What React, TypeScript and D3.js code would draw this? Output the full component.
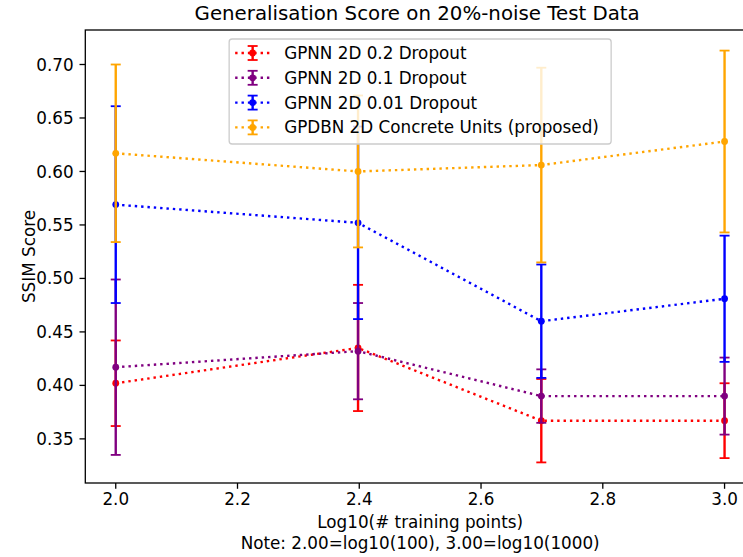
import React from 'react';
import * as d3 from 'd3';

// x positions: log10 of the number of training points
const xValues = [2.0, 2.398, 2.699, 3.0];

const seriesNames = [
  'GPNN 2D 0.2 Dropout',
  'GPNN 2D 0.1 Dropout',
  'GPNN 2D 0.01 Dropout',
  'GPDBN 2D Concrete Units (proposed)',
];
const seriesColors = ['#ff0000', '#800080', '#0000ff', '#ffa500'];

const drop02Mean = [0.402, 0.435, 0.367, 0.367];
const drop02Err = [0.040, 0.059, 0.039, 0.035];
const drop01Mean = [0.417, 0.432, 0.390, 0.390];
const drop01Err = [0.082, 0.045, 0.025, 0.036];
const drop001Mean = [0.569, 0.552, 0.460, 0.481];
const drop001Err = [0.092, 0.090, 0.053, 0.059];
const concreteMean = [0.617, 0.600, 0.606, 0.628];
const concreteErr = [0.083, 0.071, 0.091, 0.085];

const xTicks = [2.0, 2.2, 2.4, 2.6, 2.8, 3.0];
const yTicks = [0.35, 0.4, 0.45, 0.5, 0.55, 0.6, 0.65, 0.7];

const title = 'Generalisation Score on 20%-noise Test Data';
const xLabel = 'Log10(# training points)';
const xNote = 'Note: 2.00=log10(100), 3.00=log10(1000)';
const yLabel = 'SSIM Score';

const W = 743;
const H = 557;
const FONT = 'DejaVu Sans, sans-serif';
const FS = 16.8;

const App = () => {
  const means = [drop02Mean, drop01Mean, drop001Mean, concreteMean];
  const errs = [drop02Err, drop01Err, drop001Err, concreteErr];

  // axes box (right edge falls outside the picture, like the original)
  const left = 85.3;
  const top = 30;
  const bottom = 483;

  // matplotlib style 5% margins
  const x0 = d3.min(xValues);
  const x1 = d3.max(xValues);
  const xPad = (x1 - x0) * 0.05;
  const x = d3.scaleLinear().domain([x0 - xPad, x1 + xPad]).range([left, left + 669.7]);

  const lows = means.flatMap((m, i) => m.map((v, j) => v - errs[i][j]));
  const highs = means.flatMap((m, i) => m.map((v, j) => v + errs[i][j]));
  const yLo = d3.min(lows);
  const yHi = d3.max(highs);
  const yPad = (yHi - yLo) * 0.05;
  const y = d3.scaleLinear().domain([yLo - yPad, yHi + yPad]).range([bottom, top]);

  const right = x.range()[1];
  const cx = (left + right) / 2;

  const line = d3
    .line<number>()
    .x((_, i) => x(xValues[i]))
    .y((d) => y(d));

  const cap = 5;
  const lw = 2.4;
  const dash = `${lw} ${lw * 1.65}`;

  // legend
  const legW = 382;
  const legX = cx - legW / 2;
  const legY = 39;
  const rowH = 24.8;

  return (
    <svg
      width={W}
      height={H}
      style={{ position: 'absolute', left: 0, top: 0, background: '#fff' }}
      fontFamily={FONT}
    >
      <rect x={0} y={0} width={W} height={H} fill="#fff" />

      {/* series */}
      {means.map((m, si) => (
        <g key={si}>
          {m.map((v, j) => {
            const px = x(xValues[j]);
            const yt = y(v + errs[si][j]);
            const yb = y(v - errs[si][j]);
            return (
              <g key={j} stroke={seriesColors[si]} strokeWidth={lw}>
                <line x1={px} x2={px} y1={yt} y2={yb} />
                <line x1={px - cap} x2={px + cap} y1={yt} y2={yt} strokeWidth={1.8} />
                <line x1={px - cap} x2={px + cap} y1={yb} y2={yb} strokeWidth={1.8} />
              </g>
            );
          })}
          <path d={line(m)} fill="none" stroke={seriesColors[si]} strokeWidth={lw} strokeDasharray={dash} />
          {m.map((v, j) => (
            <circle key={j} cx={x(xValues[j])} cy={y(v)} r={3.4} fill={seriesColors[si]} />
          ))}
        </g>
      ))}

      {/* frame */}
      <rect x={left} y={top} width={right - left} height={bottom - top} fill="none" stroke="#000" strokeWidth={1.3} />

      {/* x axis */}
      {xTicks.map((t) => (
        <g key={t}>
          <line x1={x(t)} x2={x(t)} y1={bottom} y2={bottom + 5.8} stroke="#000" strokeWidth={1.3} />
          <text x={x(t)} y={bottom + 21.5} textAnchor="middle" fontSize={FS}>
            {d3.format('.1f')(t)}
          </text>
        </g>
      ))}

      {/* y axis */}
      {yTicks.map((t) => (
        <g key={t}>
          <line x1={left} x2={left - 5.8} y1={y(t)} y2={y(t)} stroke="#000" strokeWidth={1.3} />
          <text x={left - 11.6} y={y(t)} dy="0.36em" textAnchor="end" fontSize={FS}>
            {d3.format('.2f')(t)}
          </text>
        </g>
      ))}

      <text x={cx} y={bottom + 45} textAnchor="middle" fontSize={FS}>
        {xLabel}
      </text>
      <text x={cx} y={bottom + 65.5} textAnchor="middle" fontSize={FS}>
        {xNote}
      </text>
      <text
        transform={`translate(${35},${(top + bottom) / 2}) rotate(-90)`}
        textAnchor="middle"
        fontSize={FS}
      >
        {yLabel}
      </text>
      <text x={cx - 3} y={20} textAnchor="middle" fontSize={19.8}>
        {title}
      </text>

      {/* legend */}
      <rect
        x={legX}
        y={legY}
        width={legW}
        height={105}
        rx={3}
        fill="#fff"
        fillOpacity={0.8}
        stroke="#cccccc"
        strokeWidth={1.3}
      />
      {seriesNames.map((name, i) => {
        const ry = legY + 14 + i * rowH;
        const hx = legX + 6;
        const hc = hx + 17.5;
        return (
          <g key={name}>
            <line x1={hx} x2={hx + 35} y1={ry} y2={ry} stroke={seriesColors[i]} strokeWidth={lw} strokeDasharray={dash} />
            <line x1={hc} x2={hc} y1={ry - 7} y2={ry + 7} stroke={seriesColors[i]} strokeWidth={lw} />
            <line x1={hc - cap} x2={hc + cap} y1={ry - 7} y2={ry - 7} stroke={seriesColors[i]} strokeWidth={1.8} />
            <line x1={hc - cap} x2={hc + cap} y1={ry + 7} y2={ry + 7} stroke={seriesColors[i]} strokeWidth={1.8} />
            <circle cx={hc} cy={ry} r={3.4} fill={seriesColors[i]} />
            <text x={legX + 55} y={ry} dy="0.36em" fontSize={FS}>
              {name}
            </text>
          </g>
        );
      })}
    </svg>
  );
};

export default App;
